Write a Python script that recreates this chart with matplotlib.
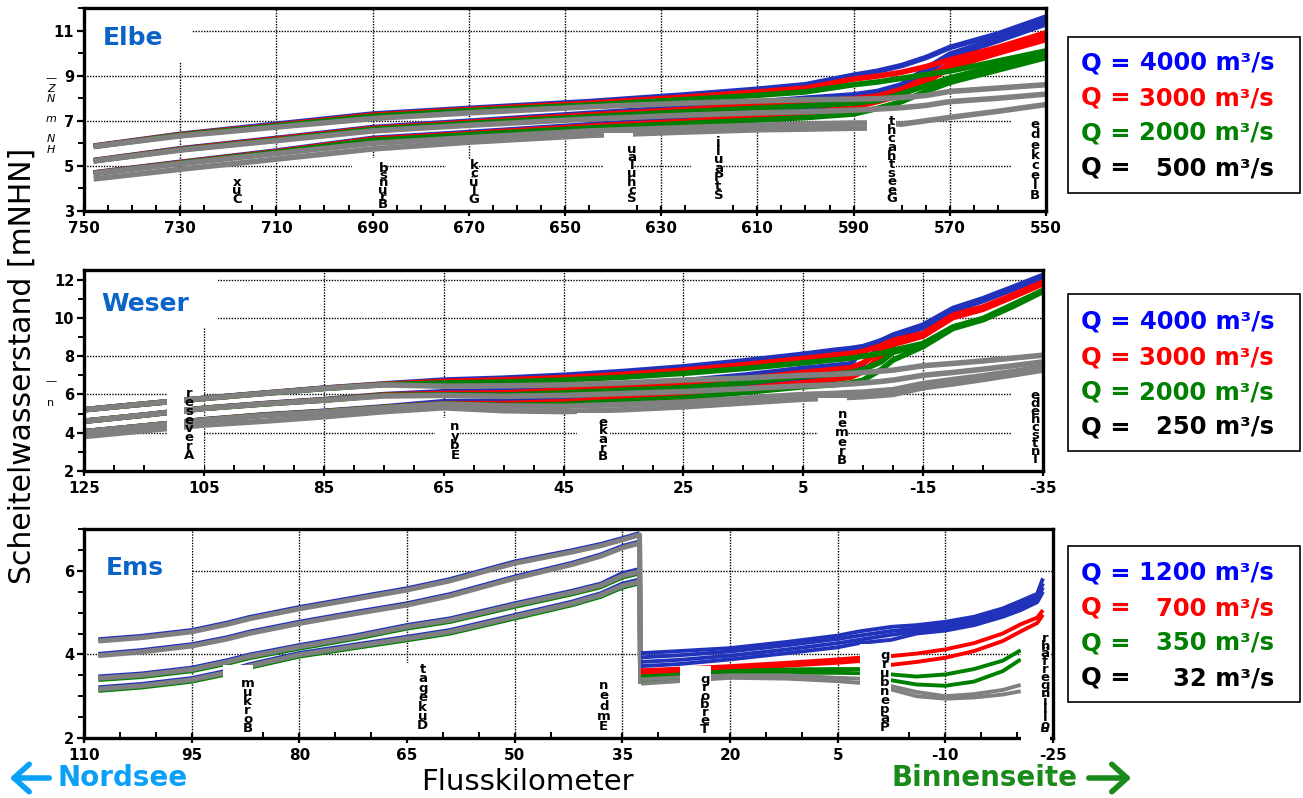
import numpy as np
import matplotlib.pyplot as plt
from matplotlib.patches import Rectangle, FancyArrowPatch

W, H = 1303, 798
nan = np.nan

c_blue = '#2233bb'
c_red = '#ff0000'
c_green = '#008000'
c_gray = '#808080'

# ---------------- Elbe ----------------
elbe_km = [748, 730, 710, 690, 670, 645, 625, 610, 600, 590, 585, 580, 575, 570, 560, 550]
elbe_blue = [
    [5.88, 6.4, 6.85, 7.3, 7.55, 7.85, 8.15, 8.4, 8.6, 9.02, 9.2, 9.45, 9.8, 10.25, 10.85, 11.6],
    [5.24, 5.76, 6.22, 6.7, 6.98, 7.33, 7.6, 7.83, 8.0, 8.15, 8.3, 8.6, 9.3, 9.95, 10.65, 11.4],
    [4.69, 5.16, 5.66, 6.22, 6.48, 6.82, 7.08, 7.33, 7.53, 7.85, 8.1, 8.4, 9.1, 9.85, 10.55, 11.3],
]
elbe_red = [
    [5.87, 6.38, 6.8, 7.25, 7.5, 7.78, 8.05, 8.28, 8.45, 8.85, 8.98, 9.15, 9.4, 9.7, 10.25, 10.9],
    [5.23, 5.74, 6.19, 6.66, 6.93, 7.26, 7.5, 7.7, 7.84, 7.98, 8.1, 8.4, 8.9, 9.5, 10.15, 10.75],
    [4.68, 5.14, 5.63, 6.18, 6.43, 6.76, 6.98, 7.18, 7.34, 7.6, 7.85, 8.15, 8.7, 9.35, 10.0, 10.6],
]
elbe_green = [
    [5.86, 6.36, 6.77, 7.2, 7.45, 7.7, 7.94, 8.13, 8.28, 8.6, 8.72, 8.88, 9.05, 9.2, 9.65, 10.1],
    [5.22, 5.72, 6.15, 6.62, 6.88, 7.18, 7.4, 7.56, 7.66, 7.78, 7.9, 8.2, 8.55, 8.9, 9.45, 9.95],
    [4.67, 5.12, 5.6, 6.13, 6.38, 6.68, 6.88, 7.03, 7.14, 7.3, 7.55, 7.85, 8.3, 8.7, 9.25, 9.8],
]
elbe_gray = [
    [5.86, 6.33, 6.72, 7.1, 7.35, 7.62, 7.78, 7.88, 7.93, 7.96, 7.98, 8.03, 8.12, 8.3, 8.45, 8.6],
    [5.22, 5.7, 6.12, 6.55, 6.8, 7.08, 7.25, 7.35, 7.4, 7.47, 7.52, 7.58, 7.68, 7.85, 8.0, 8.18],
    [4.67, 5.1, 5.55, 6.0, 6.25, 6.55, 6.7, 6.8, 6.85, 6.9, 6.9, 6.85, 7.0, 7.15, 7.42, 7.72],
    [4.42, 4.85, 5.3, 5.75, 6.05, 6.35, 6.5, 6.6, 6.63, 6.67, 6.68, nan, nan, nan, nan, nan],
]

# ---------------- Weser ----------------
weser_km = [125, 115, 105, 95, 85, 75, 65, 55, 45, 35, 25, 15, 5, 0, -3, -5, -8, -10, -15, -20, -25, -30, -35]
weser_blue = [
    [5.2, 5.5, 5.8, 6.07, 6.33, 6.55, 6.75, 6.85, 7.0, 7.2, 7.44, 7.75, 8.1, 8.3, 8.4, 8.5, 8.8, 9.1, 9.62, 10.49, 11.0, 11.6, 12.22],
    [4.6, 4.92, 5.28, 5.52, 5.73, 5.99, 6.14, 6.2, 6.37, 6.55, 6.71, 7.0, 7.36, 7.5, 7.6, 8.45, 8.8, 9.05, 9.55, 10.42, 10.95, 11.55, 12.18],
    [4.05, 4.35, 4.68, 4.93, 5.12, 5.35, 5.62, 5.65, 5.79, 6.0, 6.19, 6.5, 6.84, 7.0, 7.1, 7.6, 8.5, 8.95, 9.5, 10.38, 10.9, 11.5, 12.14],
]
weser_red = [
    [5.2, 5.5, 5.79, 6.06, 6.32, 6.53, 6.68, 6.76, 6.88, 7.05, 7.27, 7.55, 7.88, 8.05, 8.15, 8.25, 8.55, 8.83, 9.18, 10.14, 10.57, 11.2, 11.87],
    [4.6, 4.92, 5.27, 5.51, 5.71, 5.97, 6.05, 6.08, 6.22, 6.38, 6.52, 6.8, 7.15, 7.3, 7.4, 7.65, 8.3, 8.7, 9.12, 10.08, 10.5, 11.15, 11.82],
    [4.05, 4.35, 4.67, 4.92, 5.1, 5.32, 5.52, 5.52, 5.62, 5.82, 6.0, 6.3, 6.62, 6.78, 6.9, 7.2, 8.0, 8.6, 9.05, 10.02, 10.45, 11.1, 11.78],
]
weser_green = [
    [5.2, 5.5, 5.79, 6.05, 6.31, 6.51, 6.6, 6.65, 6.75, 6.9, 7.1, 7.35, 7.65, 7.8, 7.9, 8.0, 8.15, 8.31, 8.66, 9.53, 9.97, 10.7, 11.44],
    [4.6, 4.92, 5.27, 5.5, 5.7, 5.95, 5.98, 5.97, 6.08, 6.22, 6.35, 6.6, 6.95, 7.05, 7.15, 7.3, 7.7, 8.2, 8.6, 9.48, 9.92, 10.65, 11.4],
    [4.05, 4.35, 4.66, 4.91, 5.1, 5.31, 5.5, 5.43, 5.48, 5.65, 5.82, 6.1, 6.4, 6.5, 6.6, 6.75, 7.3, 7.8, 8.5, 9.45, 9.9, 10.6, 11.38],
]
weser_gray = [
    [5.2, 5.5, 5.79, 6.05, 6.31, 6.5, 6.43, 6.45, 6.5, 6.6, 6.75, 6.85, 7.0, 7.05, 7.1, 7.15, 7.22, 7.27, 7.5, 7.62, 7.75, 7.9, 8.05],
    [4.6, 4.92, 5.27, 5.5, 5.7, 5.92, 5.95, 5.9, 5.95, 6.05, 6.15, 6.3, 6.45, 6.5, 6.55, 6.6, 6.68, 6.75, 7.0, 7.15, 7.32, 7.5, 7.7],
    [4.05, 4.35, 4.66, 4.9, 5.09, 5.3, 5.5, 5.4, 5.38, 5.48, 5.6, 5.8, 6.0, 6.05, 6.1, 6.12, 6.2, 6.25, 6.57, 6.78, 6.98, 7.2, 7.44],
    [3.8, 4.1, 4.4, 4.6, 4.83, 5.1, 5.3, 5.15, 5.1, 5.2, 5.35, 5.55, 5.75, 5.8, 5.85, 5.88, 5.95, 6.0, 6.35, 6.55, 6.78, 7.02, 7.27],
]

# ---------------- Ems ----------------
# seaward of the barrier (last point: drop at the barrier)
ems_sea_km = [108, 102, 95, 90, 87, 80, 72, 65, 59, 50, 42, 38, 35, 32.6, 32.45]
ems_sea_blue = [
    [4.35, 4.43, 4.57, 4.75, 4.88, 5.12, 5.36, 5.57, 5.79, 6.21, 6.48, 6.63, 6.77, 6.89, nan],
    [4.0, 4.09, 4.23, 4.4, 4.53, 4.77, 5.01, 5.21, 5.43, 5.85, 6.18, 6.38, 6.58, 6.69, nan],
    [3.46, 3.53, 3.67, 3.85, 3.98, 4.21, 4.45, 4.69, 4.85, 5.21, 5.51, 5.68, 5.93, 6.03, nan],
    [3.2, 3.28, 3.42, 3.6, 3.75, 4.02, 4.23, 4.41, 4.57, 4.93, 5.25, 5.45, 5.68, 5.78, nan],
]
ems_sea_green = [
    [3.4, 3.47, 3.61, 3.79, 3.92, 4.15, 4.39, 4.63, 4.79, 5.15, 5.45, 5.62, 5.85, 5.95, nan],
    [3.14, 3.22, 3.36, 3.54, 3.69, 3.96, 4.17, 4.35, 4.51, 4.87, 5.19, 5.39, 5.61, 5.71, nan],
]
ems_sea_gray = [
    [4.32, 4.4, 4.54, 4.72, 4.85, 5.09, 5.33, 5.54, 5.76, 6.18, 6.45, 6.6, 6.74, 6.86, 3.3],
    [3.97, 4.06, 4.2, 4.37, 4.5, 4.74, 4.98, 5.18, 5.4, 5.82, 6.15, 6.35, 6.55, 6.66, 3.3],
    [3.43, 3.5, 3.64, 3.82, 3.95, 4.18, 4.42, 4.66, 4.82, 5.18, 5.48, 5.65, 5.88, 5.98, 3.3],
    [3.17, 3.25, 3.39, 3.57, 3.72, 3.99, 4.2, 4.38, 4.54, 4.9, 5.22, 5.42, 5.64, 5.74, 3.3],
]
# landward of the barrier
ems_land_km = [32.4, 27, 20, 12, 5, 2, -2.5, -6, -10, -14, -18, -20.5, -22.8, -23.6]
ems_land_blue = [
    [4.03, 4.08, 4.15, 4.3, 4.45, 4.55, 4.66, 4.7, 4.78, 4.9, 5.1, 5.28, 5.45, 5.82],
    [3.93, 3.98, 4.07, 4.22, 4.37, 4.45, 4.56, 4.62, 4.7, 4.83, 5.02, 5.2, 5.38, 5.7],
    [3.82, 3.87, 3.97, 4.12, 4.27, 4.35, 4.47, 4.55, 4.63, 4.76, 4.95, 5.12, 5.32, 5.6],
    [3.72, 3.77, 3.88, 4.03, 4.17, 4.27, 4.35, 4.5, 4.57, 4.7, 4.9, 5.06, 5.25, 5.5],
]
ems_land_red = [
    [3.62, 3.66, 3.72, 3.8, 3.88, 3.92, 3.96, 4.02, 4.12, 4.27, 4.5, 4.72, 4.88, 5.06],
    [3.55, 3.6, 3.65, 3.73, 3.8, 3.84, 3.75, 3.82, 3.92, 4.08, 4.32, 4.55, 4.75, 4.95],
]
ems_land_green = [
    [3.47, 3.52, 3.6, 3.64, 3.65, 3.65, 3.52, 3.47, 3.52, 3.65, 3.85, 4.1, nan, nan],
    [3.37, 3.43, 3.53, 3.56, 3.56, 3.55, 3.38, 3.28, 3.25, 3.35, 3.6, 3.88, nan, nan],
]
ems_land_gray = [
    [3.4, 3.45, 3.5, 3.5, 3.44, 3.42, 3.24, 3.1, 3.0, 3.05, 3.15, 3.27, nan, nan],
    [3.3, 3.36, 3.44, 3.42, 3.36, 3.32, 3.16, 3.0, 2.94, 2.97, 3.04, 3.12, nan, nan],
]

# legend entries
elbe_q = ['4000', '3000', '2000', '500']
weser_q = ['4000', '3000', '2000', '250']
ems_q = ['1200', '700', '350', '32']
legend_colors = ['#0000ff', '#ff0000', '#008000', '#000000']

# place-name labels: text (bottom-to-top reading), km, y of lowest/highest letter,
# white box (km from, km to, top)
elbe_places = [
    ('Cux', 718.2, 3.49, 4.29, (720.5, 715.5, 4.55)),
    ('Brunsb', 687.8, 3.36, 4.82, (694.3, 688.1, 5.36)),
    ('Glück', 668.9, 3.49, 5.04, (674.7, 668.3, 5.27)),
    ('Schulau', 636.1, 3.58, 5.71, (641.9, 635.9, 6.47)),
    ('StPauli', 618.1, 3.67, 6.07, (623.9, 618.1, 6.24)),
    ('Geesthacht', 582.1, 3.53, 6.96, (587.2, 581.2, 7.13)),
    ('Bleckede', 552.3, 3.53, 6.96, (557.3, 550.0, 7.1)),
]
weser_places = [
    ('Areveser', 107.5, 2.78, 6.07, (111.2, 108.3, 6.3)),
    ('Ebyn', 63.1, 2.73, 4.4, (66.4, 62.2, 4.76)),
    ('Brake', 38.4, 2.73, 4.56, (42.8, 37.3, 5.03)),
    ('Bremen', -1.5, 2.47, 5.03, (2.5, -2.3, 5.8)),
    ('Intschede', -33.7, 2.68, 5.91, (-29.9, -35.0, 6.2)),
]
ems_places = [
    ('Borkum', 87.2, 2.22, 3.32, (90.7, 86.5, 3.75)),
    ('Dukegat', 62.8, 2.26, 3.67, (66.4, 61.8, 3.8)),
    ('Emden', 37.6, 2.24, 3.29, (41.5, 37.3, 3.58)),
    ('Terborg', 23.5, 2.22, 3.39, (27.0, 22.6, 3.72)),
    ('Papenburg', -1.6, 2.22, 3.99, (1.9, -2.4, 4.25)),
    ('Bollingerfähr', -23.9, 2.17, 4.34, (-20.5, -24.6, 4.4)),
]


def fx(px):
    return px / W


def fy(py):
    return 1 - py / H


fig = plt.figure(figsize=(W / 100, H / 100), dpi=100)


def make_axes(left, right, top, bottom, xlim, ylim, xmaj, xmin, ymaj, ymin):
    ax = fig.add_axes([fx(left), fy(bottom), (right - left) / W, (bottom - top) / H])
    ax.set_xlim(*xlim)
    ax.set_ylim(*ylim)
    ax.set_xticks(xmaj)
    ax.set_xticks(xmin, minor=True)
    ax.set_yticks(ymaj)
    ax.set_yticks(ymin, minor=True)
    ax.set_xticklabels([str(int(v)) for v in xmaj], fontsize=11, fontweight='bold')
    ax.set_yticklabels([str(int(v)) for v in ymaj], fontsize=10.5, fontweight='bold')
    ax.set_axisbelow(True)
    ax.grid(True, which='major', color='black', linestyle=(0, (1, 1)), linewidth=1.0)
    for s in ax.spines.values():
        s.set_linewidth(2.4)
        s.set_zorder(5)
    ax.tick_params(axis='x', which='major', direction='inout', length=7, width=1.6, pad=4)
    ax.tick_params(axis='x', which='minor', direction='in', length=4, width=1.4)
    ax.tick_params(axis='y', which='major', direction='out', length=5, width=1.6, pad=2)
    ax.tick_params(axis='y', which='minor', direction='out', length=4, width=1.4)
    return ax


def draw_lines(ax, km, groups, lw):
    for color, lines in groups:
        for vals in lines:
            ax.plot(km, vals, color=color, lw=lw, solid_capstyle='butt', zorder=2)


def place_labels(ax, places, ybase):
    fs = 9.5
    for name, km, yb, yt, box in places:
        k0, k1, top = box
        ax.add_patch(Rectangle((min(k0, k1), ybase), abs(k1 - k0), top - ybase,
                               facecolor='white', edgecolor='none', zorder=4))
        letters = name[::-1]
        n = len(letters)
        # spacing between letter rows in pixels, turned into a line spacing factor
        p0 = ax.transData.transform((km, yb))[1]
        p1 = ax.transData.transform((km, yt))[1]
        step = (p1 - p0) / (n - 1)
        ls = step / (fs * 100 / 72 * 1.17)
        ax.text(km, (yb + yt) / 2, '\n'.join(letters), fontsize=fs, fontweight='bold',
                ha='center', va='center', multialignment='center', linespacing=ls, zorder=6)


# Elbe
ax1 = make_axes(84, 1046, 8, 211, (750, 550), (3, 12),
                np.arange(750, 549, -20), np.arange(550, 751, 5),
                [3, 5, 7, 9, 11], np.arange(3, 12.1, 1))
draw_lines(ax1, elbe_km, [(c_blue, elbe_blue), (c_red, elbe_red),
                          (c_green, elbe_green), (c_gray, elbe_gray)], 4.0)
ax1.add_patch(Rectangle((727.5, 9.6), 22.5, 3, facecolor='white', edgecolor='none', zorder=1))
ax1.text(746.2, 10.65, 'Elbe', fontsize=18, fontweight='bold', color='#0a64c8',
         ha='left', va='center', zorder=6)
place_labels(ax1, elbe_places, 3)

# Weser
ax2 = make_axes(84, 1043, 270, 471, (125, -35), (2, 12.5),
                np.arange(125, -36, -20), np.arange(-35, 126, 5),
                np.arange(2, 13, 2), np.arange(2, 12.6, 1))
draw_lines(ax2, weser_km, [(c_blue, weser_blue), (c_red, weser_red),
                           (c_green, weser_green), (c_gray, weser_gray)], 4.0)
ax2.add_patch(Rectangle((102.7, 9.45), 22.3, 4, facecolor='white', edgecolor='none', zorder=1))
ax2.add_patch(Rectangle((105.0, 2.0), 6.2, 4.3, facecolor='white', edgecolor='none', zorder=1))
ax2.text(122.2, 10.7, 'Weser', fontsize=18, fontweight='bold', color='#0a64c8',
         ha='left', va='center', zorder=6)
place_labels(ax2, weser_places, 2)

# Ems
ax3 = make_axes(84, 1053, 529, 738, (110, -25), (2, 7),
                np.arange(110, -26, -15), np.arange(-25, 111, 5),
                [2, 4, 6], np.arange(2, 7.01, 0.5))
draw_lines(ax3, ems_sea_km, [(c_blue, ems_sea_blue), (c_green, ems_sea_green),
                             (c_gray, ems_sea_gray)], 3.6)
draw_lines(ax3, ems_land_km, [(c_blue, ems_land_blue), (c_red, ems_land_red),
                              (c_green, ems_land_green), (c_gray, ems_land_gray)], 2.8)
ax3.add_patch(Rectangle((95.0, 5.6), 15, 2, facecolor='white', edgecolor='none', zorder=1))
ax3.text(107.0, 6.07, 'Ems', fontsize=18, fontweight='bold', color='#0a64c8',
         ha='left', va='center', zorder=6)
place_labels(ax3, ems_places, 2)
# the last label box in the Ems panel also hides a piece of the bottom axis line
ax3.add_patch(Rectangle((-24.6, 1.9), 4.1, 0.25, facecolor='white', edgecolor='none',
                        zorder=7, clip_on=False))


# legend boxes
def legend_box(top, bottom, rows, values):
    fig.add_artist(Rectangle((fx(1068), fy(bottom)), (1300 - 1068) / W, (bottom - top) / H,
                             transform=fig.transFigure, fill=False, edgecolor='black', lw=1.2))
    for yc, val, col in zip(rows, values, legend_colors):
        fig.text(fx(1081), fy(yc), 'Q =', color=col, fontsize=17.5, fontweight='bold',
                 ha='left', va='center')
        fig.text(fx(1274), fy(yc), val + ' m³/s', color=col, fontsize=17.5, fontweight='bold',
                 ha='right', va='center')


legend_box(37, 193, [63, 98, 133, 168], elbe_q)
legend_box(294, 451, [322, 357, 392, 427], weser_q)
legend_box(546, 702, [573, 608, 643, 678], ems_q)

# axis titles
fig.text(fx(22), fy(366), 'Scheitelwasserstand [mNHN]', rotation=90, fontsize=21.5,
         ha='center', va='center')
fig.text(fx(527), fy(782), 'Flusskilometer', fontsize=21, ha='center', va='center')

# direction hints
fig.text(fx(58), fy(778), 'Nordsee', fontsize=20, fontweight='bold', color='#0aa0f5',
         ha='left', va='center')
fig.add_artist(FancyArrowPatch((fx(52), fy(778)), (fx(7), fy(778)), transform=fig.transFigure,
                               arrowstyle='->,head_length=0.5,head_width=0.45',
                               mutation_scale=22, lw=4, color='#0aa0f5'))
fig.text(fx(892), fy(778), 'Binnenseite', fontsize=20, fontweight='bold', color='#1a8a1a',
         ha='left', va='center')
fig.add_artist(FancyArrowPatch((fx(1086), fy(778)), (fx(1134), fy(778)), transform=fig.transFigure,
                               arrowstyle='->,head_length=0.5,head_width=0.45',
                               mutation_scale=22, lw=4, color='#1a8a1a'))

# leftover fragments of an old axis label
fig.text(fx(51), fy(114), '—\nZ\nN\n\nm\n\nN\nH', fontsize=8, fontstyle='italic',
         ha='center', va='center', linespacing=1.02)
fig.text(fx(51), fy(392), '—\n\nn', fontsize=8, ha='center', va='center', linespacing=1.1)

fig.savefig('out.png', dpi=100)
